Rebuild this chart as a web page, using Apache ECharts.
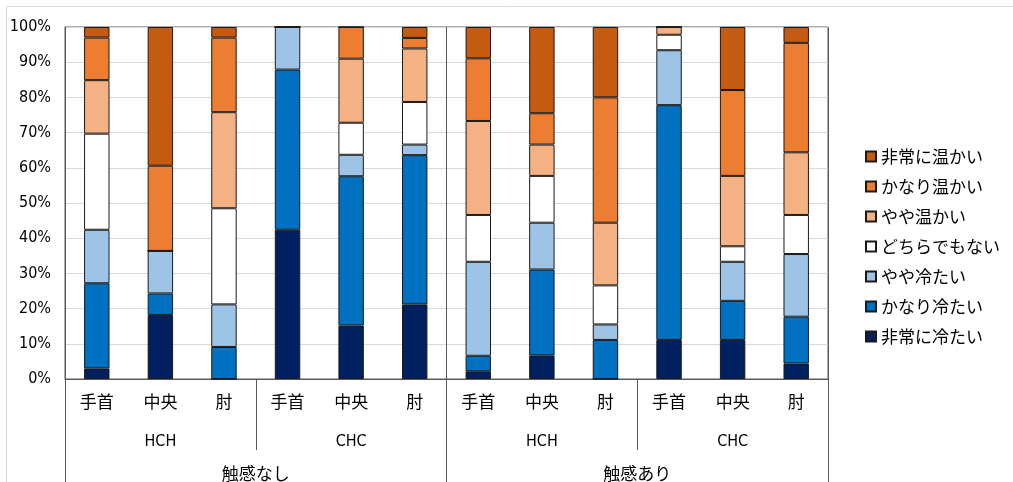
<!DOCTYPE html>
<html>
<head>
<meta charset="utf-8">
<script src="https://cdn.jsdelivr.net/npm/echarts@6/dist/echarts.min.js"></script>
<style>
  html, body { margin: 0; padding: 0; background: #fff; }
  #chart { width: 1013px; height: 482px; }
</style>
</head>
<body>
<div id="chart"></div>
<script>
// Category hierarchy (innermost first)
const sites = ['手首', '中央', '肘'];
const methods = ['HCH', 'CHC'];
const conditions = ['触感なし', '触感あり'];

// Response levels, bottom of the stack first
const levels = ['非常に冷たい', 'かなり冷たい', 'やや冷たい', 'どちらでもない', 'やや温かい', 'かなり温かい', '非常に温かい'];
const levelColors = ['#002060', '#0070C0', '#9DC3E6', '#FFFFFF', '#F4B183', '#ED7D31', '#C55A11'];

// Share of responses (%) for each of the 12 columns
const veryCold   = [3.0, 18.2, 0,    42.4, 15.2, 21.2, 2.2,  6.7,  0,    11.1, 11.1, 4.4];
const quiteCold  = [24.2, 6.1, 9.1,  45.5, 42.4, 42.4, 4.4,  24.4, 11.1, 66.7, 11.1, 13.3];
const slightCold = [15.2, 12.1, 12.1, 12.1, 6.1, 3.0,  26.7, 13.3, 4.4,  15.6, 11.1, 17.8];
const neutral    = [27.3, 0,    27.3, 0,    9.1, 12.1, 13.3, 13.3, 11.1, 4.4,  4.4,  11.1];
const slightWarm = [15.2, 0,    27.3, 0,    18.2, 15.2, 26.7, 8.9, 17.8, 2.2,  20.0, 17.8];
const quiteWarm  = [12.1, 24.2, 21.2, 0,    9.0, 3.0,  17.8, 8.9,  35.6, 0,    24.4, 31.1];
const veryWarm   = [3.0, 39.4,  3.0,  0,    0,   3.1,  8.9,  24.5, 20.0, 0,    17.9, 4.5];
const levelValues = [veryCold, quiteCold, slightCold, neutral, slightWarm, quiteWarm, veryWarm];

// Axis label rows
const siteRow = [];
const methodRow = [];
conditions.forEach(() => {
  methods.forEach(m => {
    methodRow.push(m);
    sites.forEach(s => siteRow.push(s));
  });
});

const jpFont = '"Noto Sans CJK JP", "Noto Sans", sans-serif';
const narrowFont = '"Liberation Sans Narrow", "DejaVu Sans Condensed", "Liberation Sans", sans-serif';
const lineGray = '#595959';

const chart = echarts.init(document.getElementById('chart'), null, { renderer: 'canvas' });

chart.setOption({
  backgroundColor: '#fff',
  animation: false,
  graphic: [{
    type: 'rect',
    shape: { x: 6.5, y: 6.5, width: 1100, height: 600 },
    style: { fill: 'none', stroke: '#D9D9D9', lineWidth: 1 },
    silent: true
  }],
  grid: {
    left: 65, top: 27, right: 185, bottom: 103,
    show: true, borderColor: lineGray, borderWidth: 1, backgroundColor: 'transparent'
  },
  legend: {
    orient: 'vertical',
    left: 860, top: 143,
    itemWidth: 10, itemHeight: 10, itemGap: 13,
    icon: 'rect',
    data: levels.slice().reverse(),
    textStyle: { fontFamily: jpFont, fontSize: 17, color: '#000' }
  },
  xAxis: [
    {
      type: 'category',
      data: siteRow,
      position: 'bottom',
      axisLine: { show: true, lineStyle: { color: lineGray, width: 1 } },
      axisTick: { show: false },
      axisLabel: { interval: 0, margin: 14, fontFamily: jpFont, fontSize: 17, color: '#000' },
      splitLine: { show: false }
    },
    {
      type: 'category',
      data: methodRow,
      position: 'bottom',
      axisLine: { show: false },
      axisTick: { show: true, interval: 0, length: 71, lineStyle: { color: lineGray, width: 1 } },
      axisLabel: { interval: 0, margin: 55, fontFamily: narrowFont, fontSize: 16, color: '#000' },
      splitLine: { show: false }
    },
    {
      type: 'category',
      data: conditions,
      position: 'bottom',
      axisLine: { show: false },
      axisTick: { show: true, interval: 0, length: 103, lineStyle: { color: lineGray, width: 1 } },
      axisLabel: { interval: 0, margin: 86, fontFamily: jpFont, fontSize: 17, color: '#000' },
      splitLine: { show: true, interval: 0, lineStyle: { color: lineGray, width: 1 } }
    }
  ],
  yAxis: {
    type: 'value',
    min: 0, max: 100, interval: 10,
    axisLine: { show: true, lineStyle: { color: lineGray, width: 1 } },
    axisTick: { show: false },
    axisLabel: { formatter: '{value}%', margin: 14, fontFamily: narrowFont, fontSize: 16, color: '#000' },
    splitLine: { show: true, lineStyle: { color: '#D9D9D9', width: 1 } }
  },
  series: levels.map((name, i) => ({
    name: name,
    type: 'bar',
    stack: 'total',
    xAxisIndex: 0,
    barWidth: '40%',
    data: levelValues[i],
    itemStyle: { color: levelColors[i], borderColor: '#1a1a1a', borderWidth: 1 }
  }))
});
</script>
</body>
</html>
